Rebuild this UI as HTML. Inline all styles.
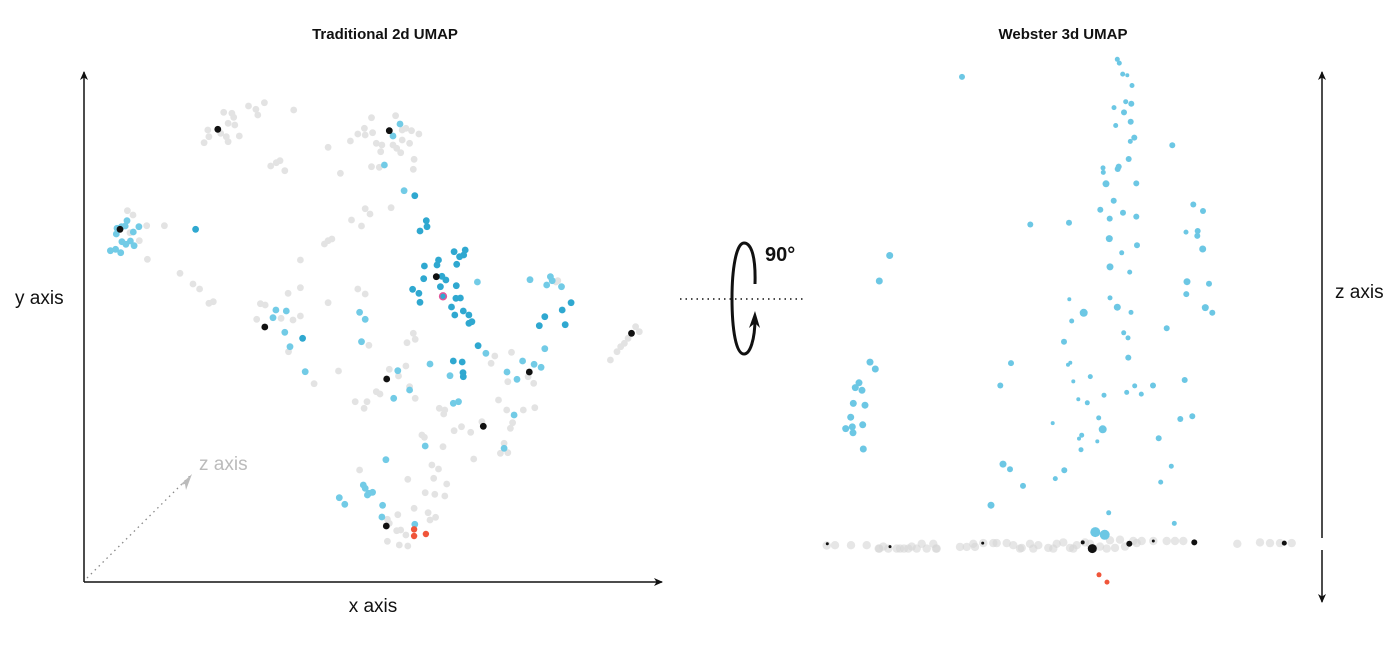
<!DOCTYPE html>
<html><head><meta charset="utf-8"><style>
html,body{margin:0;padding:0;background:#fff;}
svg{display:block;font-family:"Liberation Sans",sans-serif;}
</style></head><body>
<svg id="fig" width="1400" height="649" viewBox="0 0 1400 649">
<defs>
<marker id="ah" markerWidth="10" markerHeight="10" refX="8" refY="5" orient="auto" markerUnits="userSpaceOnUse"><path d="M0,1 L9,5 L0,9 L2.5,5 Z" fill="#111"/></marker>
<marker id="ahg" markerWidth="14" markerHeight="14" refX="10" refY="7" orient="auto" markerUnits="userSpaceOnUse"><path d="M0,1 L12,7 L0,13 L3,7 Z" fill="#bbb"/></marker>
</defs>
<text x="385" y="39" text-anchor="middle" font-size="15" font-weight="bold" fill="#111">Traditional 2d UMAP</text>
<text x="1063" y="39" text-anchor="middle" font-size="15" font-weight="bold" fill="#111">Webster 3d UMAP</text>
<g>
<line x1="84" y1="582" x2="84" y2="72" stroke="#111" stroke-width="1.5" marker-end="url(#ah)"/>
<line x1="84" y1="582" x2="662" y2="582" stroke="#111" stroke-width="1.5" marker-end="url(#ah)"/>
<line x1="87" y1="578" x2="190" y2="476" stroke="#888" stroke-width="1.3" stroke-dasharray="1.5,4"/>
<path d="M180,485 L192,474 L186,490 L185,484 Z" fill="#bbb"/>
<text x="15" y="304" font-size="19" fill="#111">y axis</text>
<text x="373" y="612" text-anchor="middle" font-size="19" fill="#111">x axis</text>
<text x="199" y="470" font-size="19" fill="#bbb">z axis</text>
</g>
<g>
<line x1="680" y1="299" x2="804" y2="299" stroke="#111" stroke-width="1.5" stroke-dasharray="1.5,4"/>
<path d="M755,284 C756,250 749,243 744,243 C736,243 732,270 732,298 C732,330 736,354 744,354 C750,354 755,340 755,318" fill="none" stroke="#111" stroke-width="3"/>
<path d="M749,328 L755,311 L760,328 L755,323 Z" fill="#111"/>
<text x="765" y="261" font-size="20" font-weight="bold" fill="#111">90°</text>
</g>
<g>
<line x1="1322" y1="538" x2="1322" y2="72" stroke="#111" stroke-width="1.5" marker-end="url(#ah)"/>
<line x1="1322" y1="550" x2="1322" y2="602" stroke="#111" stroke-width="1.5" marker-end="url(#ah)"/>
<text x="1335" y="298" font-size="19" fill="#111">z axis</text>
</g>
<g id="leftPts"></g>
<g id="rightPts"></g>
</svg>
<script>
// Left 2d UMAP data (embedding units)
const leftGrayX=[455,475,498,480,577,388,410,415,400,418,345,380,395,430,348,335,400,787,852,768,790,750,770,730,800,815,845,855,870,890,895,915,870,880,812,866,902,900,787,808,670,703,515,530,540,553,770,783,840,733,760,660,670,680,595,128,143,180,228,135,160,182,270,305,323,348,360,562,595,670,750,770,487,500,477,543,575,595,563,900,905,883,780,698,632,835,880,860,800,810,890,905,743,775,767,970,985,982,1165,1120,1110,1155,1210,1225,1130,1152,1197,1228,1168,1162,1085,1030,1010,1055,980,923,930,1145,1135,1155,1063,1500,1510,1480,1470,1450,1432,1460,1290,1285,755,950,968,885,955,990,932,958,985,902,940,960,945,858,830,835,855,866,880,830,862,885];
const leftGrayY=[78,88,68,105,90,97,100,112,130,135,150,160,170,168,170,188,185,113,107,145,158,162,165,183,190,195,195,205,180,190,152,162,150,145,215,218,238,268,260,262,202,280,258,248,242,272,386,402,383,420,438,492,482,477,540,392,405,437,437,458,482,538,580,612,627,670,665,640,623,668,627,642,671,675,718,715,720,708,815,760,778,788,796,873,911,868,858,888,935,942,920,955,965,965,985,985,990,1002,817,828,850,905,890,910,960,990,990,983,1028,1045,1025,1040,1052,1057,1100,1065,1072,1090,1120,1118,1137,740,755,775,790,815,840,800,602,606,1170,1155,1167,1198,1195,1212,1238,1243,1248,1285,1298,1312,1320,1304,1318,1330,1352,1350,1365,1384,1395,1398];
const leftBlueX=[864,845,822,875,100,98,112,127,122,144,159,113,124,136,146,82,96,110,1073,1215,1270,1275,1300,1260,529,557,521,553,567,755,770,760,608,1096,945,999,858,890,847,1008,1022,1195,1226,1245,1153,1180,1255,1172,932,1145,826,765,770,780,790,776,700,715,817,815,904];
const leftBlueY=[132,168,255,332,445,462,440,422,438,456,440,485,493,483,497,512,508,518,606,599,590,602,620,615,690,693,713,757,800,697,718,785,875,820,852,887,872,930,955,970,965,843,853,862,876,898,806,1005,1098,1105,1139,1215,1225,1240,1237,1245,1253,1273,1276,1311,1333];
const leftDarkX=[904,935,937,918,312,1010,1040,1036,1025,968,964,1017,930,928,977,988,973,1016,898,915,918,1015,1027,1003,1012,1035,1050,1058,1050,1326,1302,1255,1240,1310,601,1075,1008,1032,1034,1035];
const leftDarkY=[347,422,440,453,448,515,510,525,530,540,555,553,558,596,589,600,620,617,628,640,667,655,654,681,705,693,705,725,730,668,690,710,737,734,775,797,843,846,878,890];
const leftBlackX=[372,835,108,962,499,828,1213,1489,1089,827];
const leftBlackY=[148,152,448,590,741,897,876,760,1039,1338];
const leftPinkX=[980];
const leftPinkY=[649];
const leftRedX=[902,934,902];
const leftRedY=[1368,1362,1348];

// Right 3d UMAP data (embedding units)
const rightBlueX=[952,958,968,982,996,486,977,994,942,972,992,947,1003,991,1117,986,909,956,910,953,918,1009,941,901,969,1180,1209,929,1009,691,807,1158,1193,1192,928,1011,1208,965,269,930,989,238,1161,1227,1159,930,808,952,851,993,1216,1237,815,1100,971,984,792,985,210,226,633,811,804,177,166,186,601,871,820,1004,1059,1154,980,1024,912,160,195,835,862,152,896,1177,1141,758,137,157,188,159,908,845,837,892,1076,843,190,609,630,793,766,669,1114,1082,573,926,1123,886,914];
const rightBlueY=[27,38,70,73,103,78,150,156,167,181,208,219,254,265,276,316,342,338,355,345,388,387,437,463,472,448,467,489,483,506,501,528,525,539,547,566,577,588,596,629,644,670,672,678,708,719,723,746,762,761,747,762,786,807,820,835,846,892,905,925,908,907,913,965,979,987,973,947,961,974,973,957,993,998,1001,1025,1030,1013,1023,1065,1067,1062,1070,1082,1098,1093,1087,1110,1100,1117,1127,1135,1126,1159,1157,1201,1216,1219,1243,1264,1207,1253,1320,1342,1373,1398,1406];
const rightBlueSize=[2.5,2.5,2.5,2,2.5,3,2.5,3,2.5,3,3,2.5,3,2.5,3,3,2.5,3,2.5,3,3.5,3,3,3,3,3,3,3,3,3,3,2.5,3,3,3.5,3,3.5,2.5,3.5,3.5,2.5,3.5,3.5,3,3,2.5,2,3.5,4,2.5,3.5,3,2.5,3,2.5,2.5,3,3,3.5,3.5,3,2,2,3.5,3.5,3.5,3,2.5,2,2.5,3,3,2.5,2.5,2.5,3.5,3.5,2,2.5,3.5,2.5,3,3,2,3.5,3.5,3.5,3.5,4,2.5,2,2,3,2.5,3.5,3.5,3,3,2.5,3,2.5,2.5,3.5,2.5,2.5,5,5];
const rightGrayX=[80,105,153,200,238,265,290,312,335,350,380,408,400,480,500,525,550,580,620,665,690,715,745,770,790,810,830,855,900,920,945,975,1000,1025,1060,1100,1125,1150,1312,1380,1410,1440,1475,1010,760,700,640,590,250,325,365,520,870,930,960,236,300,410,660,820,880];
const rightGrayY=[1437,1436,1436,1436,1446,1446,1446,1446,1440,1446,1446,1446,1432,1441,1441,1441,1430,1430,1430,1444,1432,1436,1444,1432,1428,1444,1436,1428,1440,1446,1444,1440,1424,1424,1424,1424,1424,1424,1432,1428,1430,1430,1430,1430,1446,1446,1436,1430,1440,1446,1432,1432,1432,1422,1420,1446,1446,1446,1446,1446,1446];
const rightBlackX=[877,988,1183,1453,848,1060,548,270,82];
const rightBlackY=[1446,1432,1428,1430,1428,1424,1430,1440,1432];
const rightRedX=[897,921];
const rightRedY=[1522,1543];

function lin(d0,d1,r0,r1){return v=>r0+(v-d0)/(d1-d0)*(r1-r0);}
const lx=lin(0,1566,80,660), ly=lin(0,1440,80,560);
const rx=lin(0,1560,800,1320), ry=lin(0,1566,50,590);
const NS="http://www.w3.org/2000/svg";
function dots(g,xs,ys,sx,sy,r,fill,op,name,sizes,stroke){
  for(let i=0;i<xs.length;i++){
    const c=document.createElementNS(NS,'circle');
    c.setAttribute('cx',sx(xs[i]).toFixed(1));
    c.setAttribute('cy',sy(ys[i]).toFixed(1));
    c.setAttribute('r',sizes?sizes[i]:r);
    c.setAttribute('fill',fill);
    c.setAttribute('fill-opacity',op);
    if(stroke){c.setAttribute('stroke',stroke);c.setAttribute('stroke-width','1.5');}
    
    
    g.appendChild(c);
  }
}
const L=document.getElementById('leftPts'), R=document.getElementById('rightPts');
dots(L,leftGrayX,leftGrayY,lx,ly,3.4,'#e3e3e3',1,'gray-point');
dots(L,leftBlueX,leftBlueY,lx,ly,3.4,'#72cbe6',1,'blue-point');
dots(L,leftDarkX,leftDarkY,lx,ly,3.4,'#2fa8d0',1,'dark-blue-point');
dots(L,leftBlackX,leftBlackY,lx,ly,3.4,'#111',1,'black-point');
dots(L,leftPinkX,leftPinkY,lx,ly,3.4,'#2fa8d0',1,'highlight-point',null,'#e0559a');
dots(L,leftRedX,leftRedY,lx,ly,3.2,'#f0553a',1,'red-point');
dots(R,rightGrayX,rightGrayY,rx,ry,4.2,'#d6d6d6',0.6,'gray-point');
dots(R,rightBlueX,rightBlueY,rx,ry,3,'#6cc7e4',1,'blue-point',rightBlueSize);
dots(R,rightBlackX,rightBlackY,rx,ry,3,'#111',1,'black-point',[4.5,3,3,2.5,2,1.5,1.5,1.5,1.5]);
dots(R,rightRedX,rightRedY,rx,ry,2.5,'#f0553a',1,'red-point');
</script>
</body></html>
